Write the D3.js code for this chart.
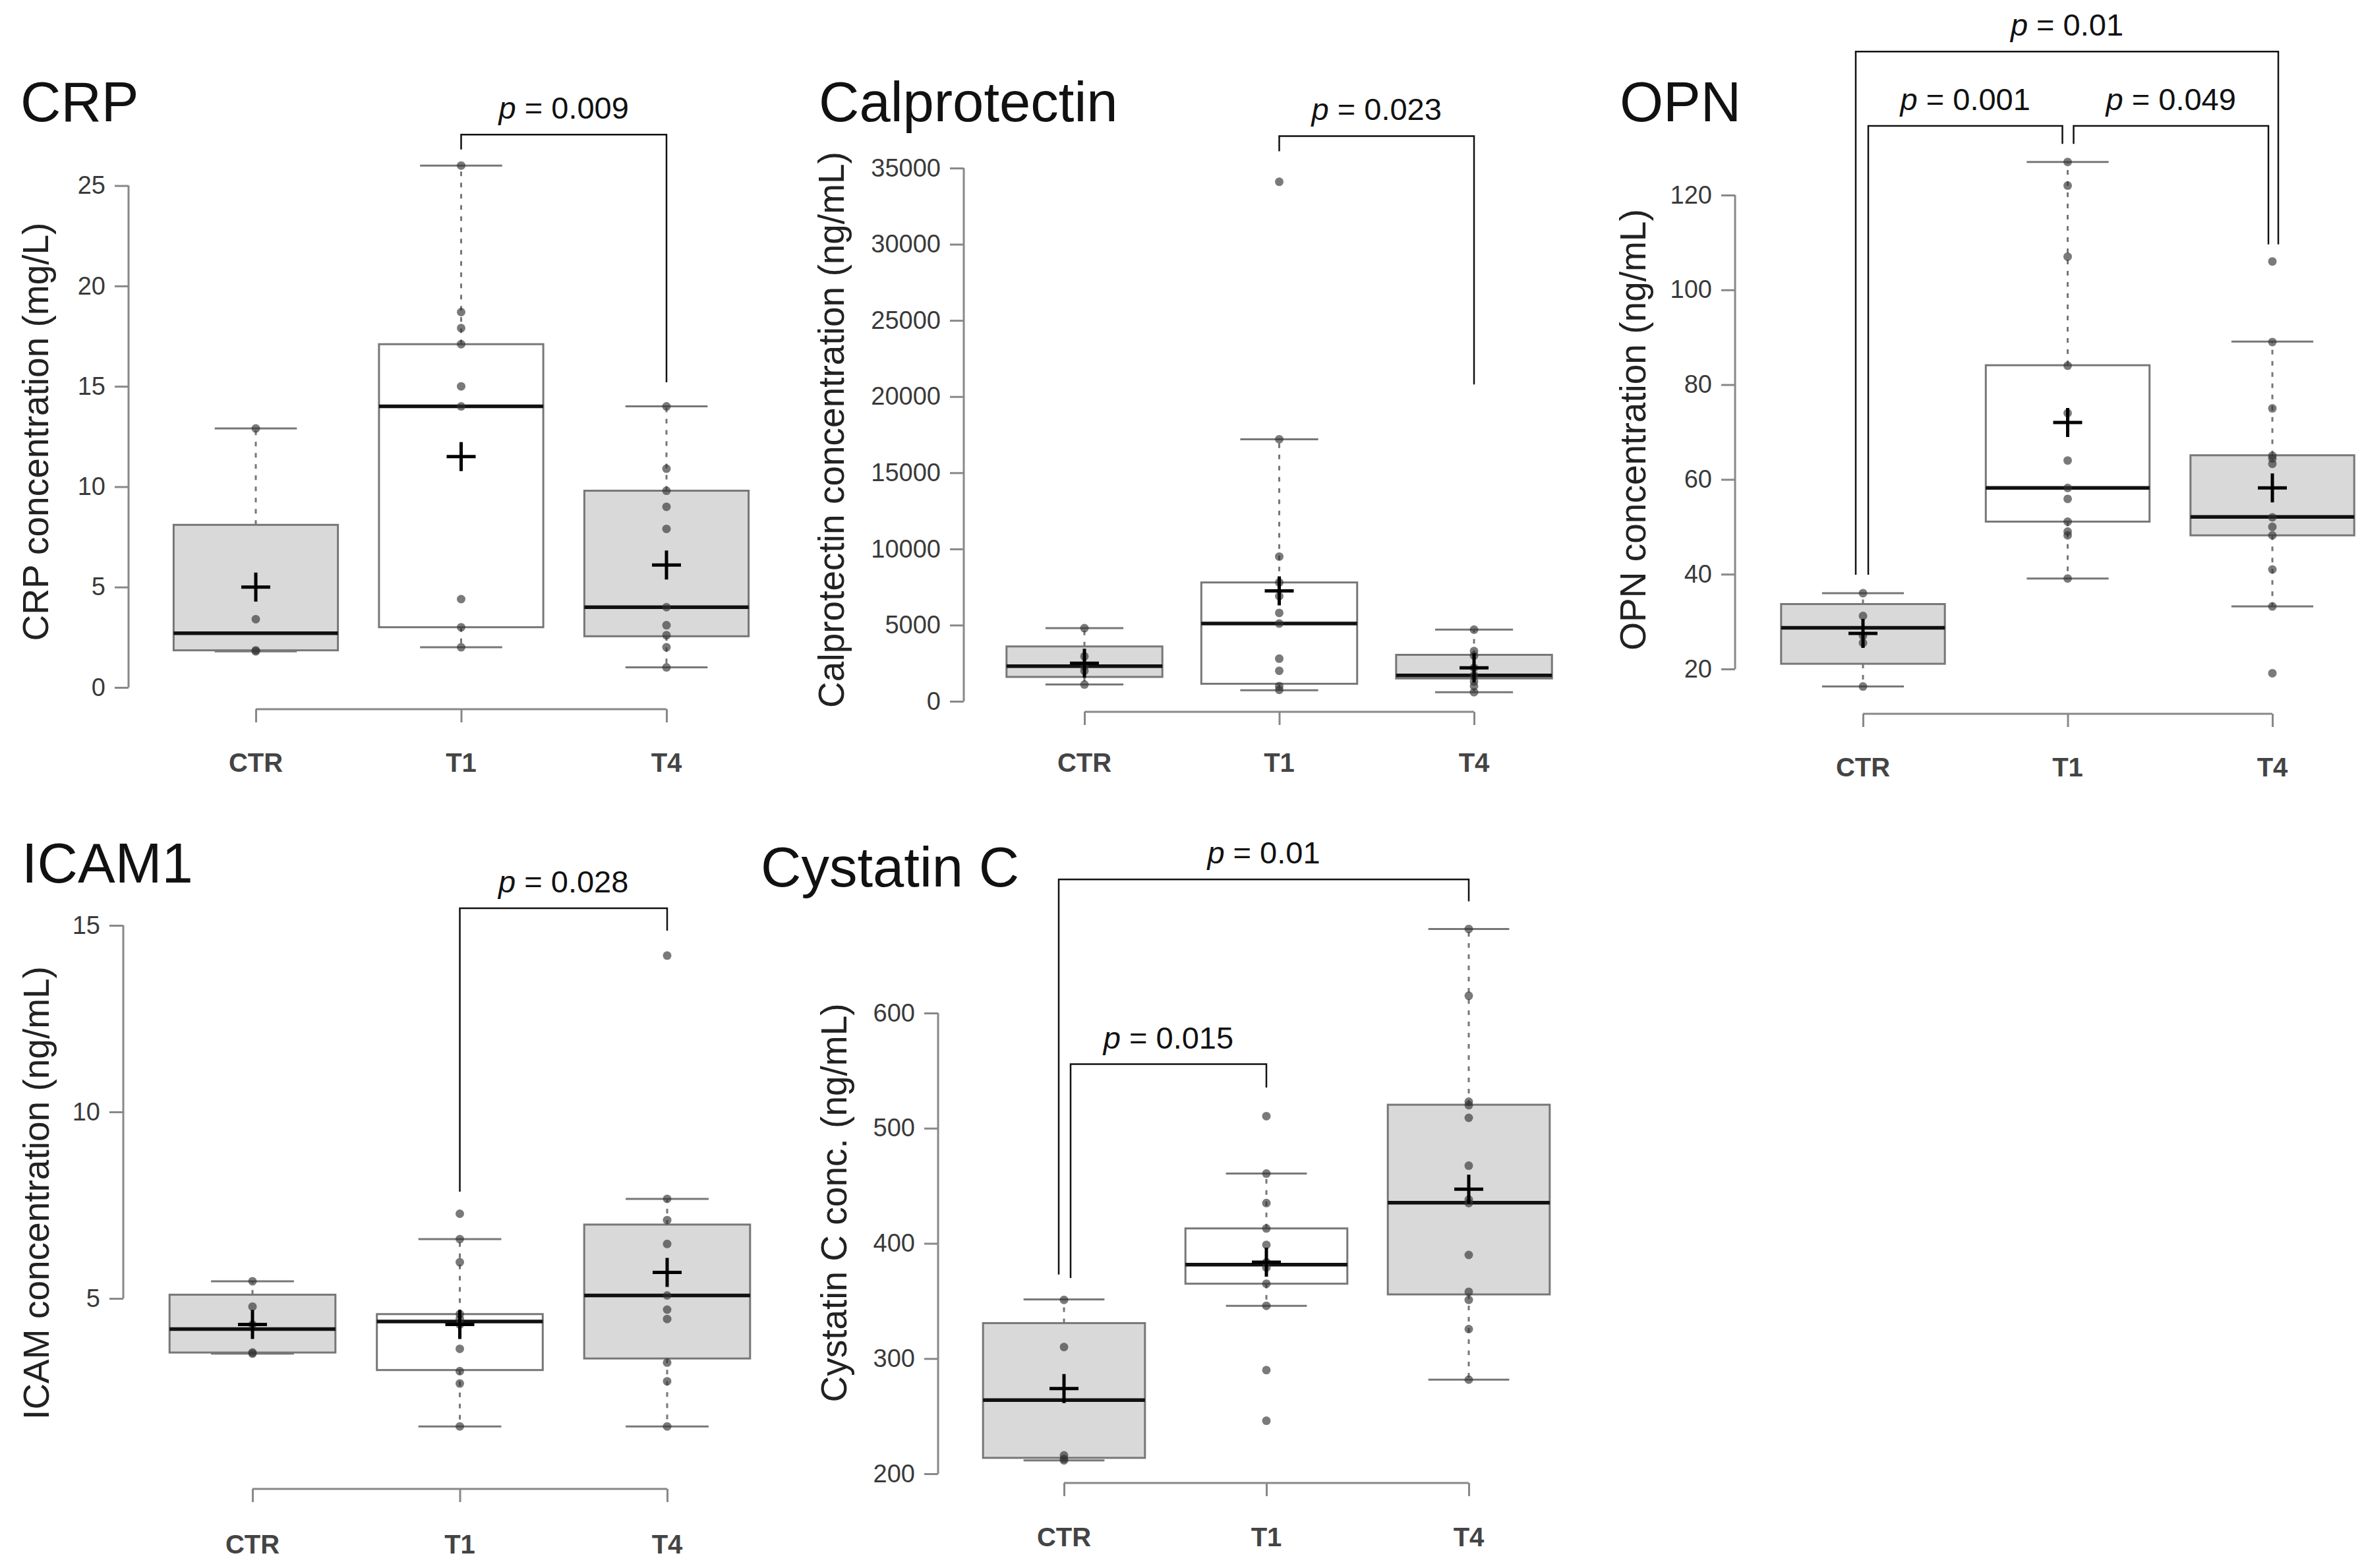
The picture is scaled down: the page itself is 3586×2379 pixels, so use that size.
<!DOCTYPE html>
<html>
<head>
<meta charset="utf-8">
<script src="https://cdn.jsdelivr.net/npm/d3@7"></script>
<style>
  body { margin: 0; background: #fff; }
  text { font-family: "Liberation Sans", Arial, sans-serif; }
</style>
</head>
<body>
<svg id="chart" width="3586" height="2379"></svg>
<script>
// groups shown on every panel
var groups = ["CTR", "T1", "T4"];
var boxFill = ["#d9d9d9", "#ffffff", "#d9d9d9"];

// box stats per group: [whisker low, q1, median, q3, whisker high]
var crpBox = [[1.8, 1.85, 2.7, 8.1, 12.9], [2.0, 3.0, 14.0, 17.1, 26.0], [1.0, 2.55, 4.0, 9.8, 14.0]];
var crpMean = [5.0, 11.5, 6.1];
var crpPoints = [
  [12.9, 3.4, 1.85, 1.8],
  [26.0, 18.7, 17.9, 17.1, 15.0, 14.0, 4.4, 3.0, 2.0],
  [14.0, 10.9, 9.8, 9.0, 7.9, 4.0, 3.1, 2.6, 2.0, 1.0]
];
var crpTicks = [0, 5, 10, 15, 20, 25];

var calBox = [[1100, 1600, 2300, 3600, 4800], [720, 1150, 5100, 7800, 17200], [600, 1500, 1700, 3050, 4700]];
var calMean = [2500, 7250, 2200];
var calPoints = [
  [4800, 2950, 2300, 2000, 1100],
  [34100, 17200, 9500, 7800, 6900, 5800, 5100, 2800, 2000, 1000, 750],
  [4700, 3300, 3000, 2200, 1700, 1300, 1000, 600]
];
var calTicks = [0, 5000, 10000, 15000, 20000, 25000, 30000, 35000];

var opnBox = [[16.3, 21.1, 28.7, 33.7, 36], [39.1, 51.1, 58.2, 84.1, 127], [33.2, 48.2, 52.1, 65.1, 89.1]];
var opnMean = [27.5, 72, 58.2];
var opnPoints = [
  [36, 31.2, 27, 25.5, 16.3],
  [127, 122, 107, 84, 74, 64, 58.2, 55.9, 51.1, 49, 48.2, 39.1],
  [106, 89, 75, 65, 64.4, 63.3, 52, 50, 48.2, 41, 33.2, 19.1]
];
var opnTicks = [20, 40, 60, 80, 100, 120];

var icamBox = [[3.52, 3.55, 4.18, 5.1, 5.46], [1.57, 3.08, 4.38, 4.58, 6.59], [1.57, 3.39, 5.08, 6.98, 7.67]];
var icamMean = [4.3, 4.3, 5.7];
var icamPoints = [
  [5.46, 4.78, 4.3, 3.55, 3.52],
  [7.27, 6.59, 5.97, 4.58, 4.45, 4.3, 3.65, 3.05, 2.72, 1.57],
  [14.19, 7.67, 7.1, 6.46, 5.08, 4.7, 4.45, 3.28, 2.78, 1.57]
];
var icamTicks = [5, 10, 15];

var cysBox = [[211.6, 213.8, 264, 330.8, 351.4], [345.8, 365, 381.5, 413, 460.6], [281.7, 355.7, 435.3, 520.4, 673]];
var cysMean = [274, 383.7, 447];
var cysPoints = [
  [351, 310, 216, 213, 211.6],
  [510.5, 460.6, 435, 413, 398.7, 383.7, 379, 365, 345.8, 290, 246],
  [673, 615, 523, 520, 509, 467.5, 438, 435, 390, 358, 351, 325.6, 281.7]
];
var cysTicks = [200, 300, 400, 500, 600];

// significance brackets: [from group, to group, label, bar value, left leg end, right leg end, dx left, dx right]
var crpSig = [["T1", "T4", "0.009", 27.54, 26.8, 15.2, 0, 0]];
var calSig = [["T1", "T4", "0.023", 37100, 36100, 20800, 0, 0]];
var opnSig = [
  ["CTR", "T4", "0.01", 150.3, 39.9, 109.6, -11, 9],
  ["CTR", "T1", "0.001", 134.6, 39.9, 130.8, 8, -8],
  ["T1", "T4", "0.049", 134.6, 130.8, 109.6, 9, -6]
];
var icamSig = [["T1", "T4", "0.028", 15.46, 7.86, 14.86, 0, 0]];
var cysSig = [
  ["CTR", "T4", "0.01", 716, 373, 697, -8, 0],
  ["CTR", "T1", "0.015", 555.6, 370, 535.4, 10, 0]
];

var panels = [
  {title: "CRP", ylab: "CRP concentration (mg/L)", box: crpBox, mean: crpMean, pts: crpPoints, ticks: crpTicks, sig: crpSig,
   titleX: 31, titleY: 184, axisX: 195, yRange: [1043, 281.6], xRange: [388, 1011], xAxisY: 1076, ylabX: 54, ylabY: 655, xlabY: 1171},
  {title: "Calprotectin", ylab: "Calprotectin concentration (ng/mL)", box: calBox, mean: calMean, pts: calPoints, ticks: calTicks, sig: calSig,
   titleX: 1242, titleY: 184, axisX: 1462, yRange: [1064, 255], xRange: [1645, 2236], xAxisY: 1080, ylabX: 1261, ylabY: 652, xlabY: 1171},
  {title: "OPN", ylab: "OPN concentration (ng/mL)", box: opnBox, mean: opnMean, pts: opnPoints, ticks: opnTicks, sig: opnSig,
   titleX: 2457, titleY: 184, axisX: 2632, yRange: [1015, 296], xRange: [2826, 3447], xAxisY: 1083, ylabX: 2477, ylabY: 652, xlabY: 1178},
  {title: "ICAM1", ylab: "ICAM concentration (ng/mL)", box: icamBox, mean: icamMean, pts: icamPoints, ticks: icamTicks, sig: icamSig,
   titleX: 33, titleY: 1339, axisX: 187, yRange: [1970, 1404], xRange: [383, 1012], xAxisY: 2259, ylabX: 55, ylabY: 1810, xlabY: 2357},
  {title: "Cystatin C", ylab: "Cystatin C conc. (ng/mL)", box: cysBox, mean: cysMean, pts: cysPoints, ticks: cysTicks, sig: cysSig,
   titleX: 1154, titleY: 1345, axisX: 1423, yRange: [2236, 1537], xRange: [1614, 2228], xAxisY: 2250, ylabX: 1265, ylabY: 1825, xlabY: 2346}
];

var svg = d3.select("#chart");
svg.append("rect").attr("width", 3586).attr("height", 2379).attr("fill", "#fff");

panels.forEach(function(p) {
  var g = svg.append("g");
  var y = d3.scaleLinear().domain(d3.extent(p.ticks)).range(p.yRange);
  var x = d3.scalePoint().domain(groups).range(p.xRange);
  var step = x.step();
  var half = step * 0.4;
  var cap = half * 0.5;

  // title
  g.append("text").attr("x", p.titleX).attr("y", p.titleY)
    .attr("font-size", 85).attr("fill", "#111").text(p.title);

  // y axis
  var yAxis = g.append("g").attr("transform", "translate(" + p.axisX + ",0)")
    .call(d3.axisLeft(y).tickValues(p.ticks).tickSize(21).tickPadding(14).tickFormat(d3.format("d")));
  yAxis.select(".domain").attr("d", "M0," + y(p.ticks[0]) + "V" + y(p.ticks[p.ticks.length - 1]))
    .attr("stroke", "#888").attr("stroke-width", 3);
  yAxis.selectAll(".tick line").attr("stroke", "#888").attr("stroke-width", 3);
  yAxis.selectAll(".tick text").attr("font-size", 38).attr("fill", "#3a3a3a")
    .attr("font-family", "Liberation Sans, Arial, sans-serif");

  // y label
  g.append("text").attr("transform", "translate(" + p.ylabX + "," + p.ylabY + ") rotate(-90)")
    .attr("text-anchor", "middle").attr("dy", "0.35em")
    .attr("font-size", 55).attr("fill", "#222").text(p.ylab);

  // x axis
  var xAxis = g.append("g").attr("transform", "translate(0," + p.xAxisY + ")")
    .call(d3.axisBottom(x).tickSize(20).tickSizeOuter(0).tickFormat(""));
  xAxis.select(".domain").attr("d", "M" + p.xRange[0] + ",0H" + p.xRange[1])
    .attr("stroke", "#888").attr("stroke-width", 3);
  xAxis.selectAll(".tick line").attr("stroke", "#888").attr("stroke-width", 3);
  g.selectAll(".xlab").data(groups).enter().append("text")
    .attr("x", function(d) { return x(d); }).attr("y", p.xlabY)
    .attr("text-anchor", "middle").attr("font-size", 40).attr("font-weight", "bold")
    .attr("fill", "#444").text(function(d) { return d; });

  // boxes
  groups.forEach(function(grp, i) {
    var b = p.box[i], cx = x(grp);
    var bg = g.append("g");
    bg.append("line").attr("x1", cx).attr("x2", cx).attr("y1", y(b[3])).attr("y2", y(b[4]))
      .attr("stroke", "#777").attr("stroke-width", 3).attr("stroke-dasharray", "7,10");
    bg.append("line").attr("x1", cx).attr("x2", cx).attr("y1", y(b[1])).attr("y2", y(b[0]))
      .attr("stroke", "#777").attr("stroke-width", 3).attr("stroke-dasharray", "7,10");
    [b[0], b[4]].forEach(function(v) {
      bg.append("line").attr("x1", cx - cap).attr("x2", cx + cap).attr("y1", y(v)).attr("y2", y(v))
        .attr("stroke", "#777").attr("stroke-width", 3);
    });
    bg.append("rect").attr("x", cx - half).attr("width", half * 2)
      .attr("y", y(b[3])).attr("height", y(b[1]) - y(b[3]))
      .attr("fill", boxFill[i]).attr("stroke", "#777").attr("stroke-width", 3);
    bg.append("line").attr("x1", cx - half).attr("x2", cx + half).attr("y1", y(b[2])).attr("y2", y(b[2]))
      .attr("stroke", "#111").attr("stroke-width", 5.5);
  });

  // points
  groups.forEach(function(grp, i) {
    g.selectAll(null).data(p.pts[i]).enter().append("circle")
      .attr("cx", x(grp)).attr("cy", function(d) { return y(d); }).attr("r", 6.5)
      .attr("fill", "#333").attr("fill-opacity", 0.65);
  });

  // means
  groups.forEach(function(grp, i) {
    var cx = x(grp), cy = y(p.mean[i]), s = 22;
    g.append("path").attr("d", "M" + (cx - s) + "," + cy + "H" + (cx + s) + "M" + cx + "," + (cy - s) + "V" + (cy + s))
      .attr("stroke", "#000").attr("stroke-width", 5).attr("fill", "none");
  });

  // significance brackets
  p.sig.forEach(function(s) {
    var x1 = x(s[0]) + s[6], x2 = x(s[1]) + s[7], yb = y(s[3]);
    g.append("path")
      .attr("d", "M" + x1 + "," + y(s[4]) + "V" + yb + "H" + x2 + "V" + y(s[5]))
      .attr("stroke", "#111").attr("stroke-width", 2.5).attr("fill", "none");
    var t = g.append("text").attr("x", (x1 + x2) / 2).attr("y", yb - 24)
      .attr("text-anchor", "middle").attr("font-size", 47).attr("fill", "#111");
    t.append("tspan").attr("font-style", "italic").text("p");
    t.append("tspan").text(" = " + s[2]);
  });
});
</script>
</body>
</html>
